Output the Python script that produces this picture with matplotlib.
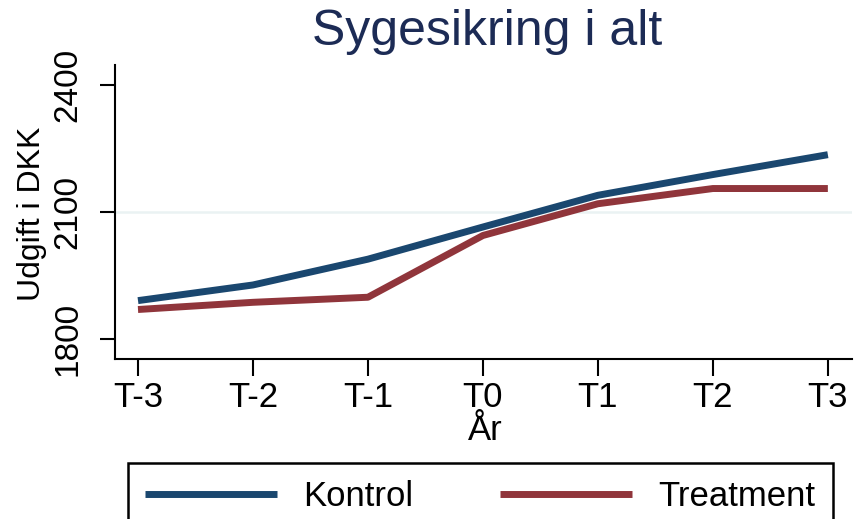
import matplotlib
matplotlib.use("Agg")
import matplotlib.pyplot as plt

plt.rcParams['font.family'] = ['Liberation Sans', 'DejaVu Sans']

# data
years = ['T-3', 'T-2', 'T-1', 'T0', 'T1', 'T2', 'T3']
kontrol = [1891, 1928, 1989, 2065, 2140, 2189, 2236]
treatment = [1870, 1887, 1899, 2045, 2120, 2156, 2156]
yticks = [1800, 2100, 2400]

navy = '#1a476f'
maroon = '#90353b'

fig = plt.figure(figsize=(8.56, 5.19), dpi=100)
ax = fig.add_axes([115/856, 1-359/519, (852-115)/856, (359-65)/519])

x = list(range(len(years)))
ax.axhline(2100, color='#eaf2f3', lw=1.8, zorder=0)
ax.plot(x, kontrol, color=navy, lw=5, label='Kontrol', solid_capstyle='butt')
ax.plot(x, treatment, color=maroon, lw=5, label='Treatment', solid_capstyle='butt')

ax.set_xlim(-0.2, 6.21)
ax.set_ylim(1753, 2448)
ax.set_xticks(x)
ax.set_xticklabels(years, fontsize=25)
ax.set_yticks(yticks)
ax.set_yticklabels([str(v) for v in yticks], fontsize=24, rotation=90, va='center')
ax.tick_params(axis='x', length=12, width=1.5, pad=4)
ax.tick_params(axis='y', length=11, width=1.5, pad=12)
for s in ['top', 'right']:
    ax.spines[s].set_visible(False)
for s in ['left', 'bottom']:
    ax.spines[s].set_linewidth(1.5)

fig.text(487/856, 1-32/519, 'Sygesikring i alt', fontsize=36, color='#1c2b55',
         ha='center', va='center')
fig.text(32/856, 1-214/519, 'Udgift i DKK', fontsize=23, rotation=90,
         ha='center', va='center')
fig.text(485/856, 1-431/519, 'År', fontsize=25, ha='center', va='center')

leg = fig.legend(loc='upper left', bbox_to_anchor=(128/856, 1-463/519),
                 ncol=2, fontsize=25, frameon=True, fancybox=False, framealpha=1,
                 handlelength=3.8, handletextpad=0.75, columnspacing=2.5,
                 borderpad=0.5, borderaxespad=0)
leg.get_frame().set_edgecolor('black')
leg.get_frame().set_linewidth(1.8)
for line in leg.get_lines():
    line.set_linewidth(5)

fig.savefig('out.png', dpi=100)
